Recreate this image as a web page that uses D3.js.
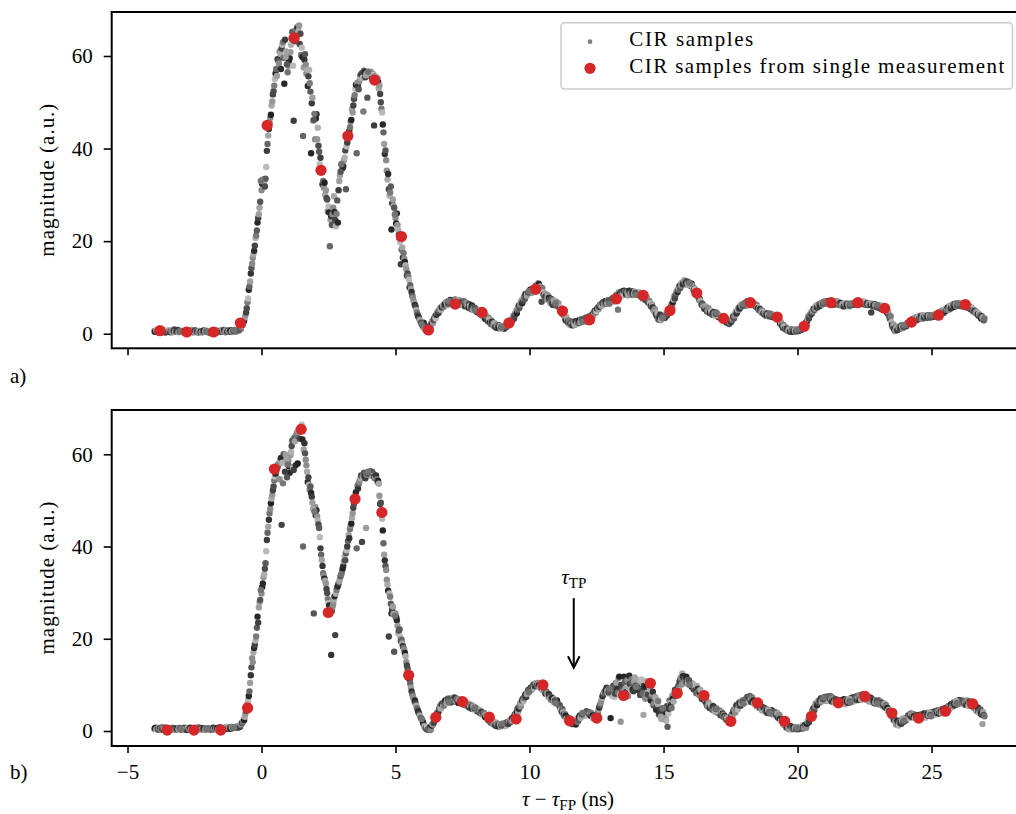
<!DOCTYPE html>
<html>
<head>
<meta charset="utf-8">
<script src="https://cdn.jsdelivr.net/npm/d3@7"></script>
<style>
  body { margin: 0; background: #ffffff; }
</style>
</head>
<body>
<svg id="chart" width="1016" height="814"></svg>
<script>
// ---------------------------------------------------------------------------
// Data: CIR magnitude samples aligned to the first path (tau - tau_FP, ns).
// Each row holds one channel tap; each column is one measurement whose
// sampling grid is shifted by its offset relative to the tap start.
// Two groups of measurements are stored (offset grids interleave).
// ---------------------------------------------------------------------------
const tapStartNs = [-4, -3, -2, -1, 0, 1, 2, 3, 4, 5, 6, 7, 8, 9, 10, 11, 12, 13, 14, 15,
                    16, 17, 18, 19, 20, 21, 22, 23, 24, 25, 26];
const offsetsGroup1 = [0, 0.05, 0.1, 0.15, 0.2, 0.25, 0.3, 0.35, 0.4, 0.45,
                       0.5, 0.55, 0.6, 0.65, 0.7, 0.75, 0.8, 0.85, 0.9, 0.95];
const offsetsGroup2 = [0.025, 0.075, 0.125, 0.175, 0.225, 0.275, 0.325, 0.375, 0.425, 0.475,
                       0.525, 0.575, 0.625, 0.675, 0.725, 0.775, 0.825, 0.875, 0.925, 0.975];

// a) all measurements, group 1
const cirSamplesA1 = [
  [0.6,0.4,0.7,0.3,0.5,0.8,0.4,0.6,0.2,0.5,0.7,0.4,0.3,0.6,0.5,0.9,0.4,0.6,0.3,0.5],
  [0.4,0.6,0.3,0.5,0.7,0.2,0.5,0.4,0.8,0.3,0.5,0.6,0.4,0.2,0.6,0.5,0.3,0.7,0.4,0.5],
  [0.5,0.3,0.6,0.4,0.2,0.5,0.7,0.4,0.3,0.6,0.5,0.4,0.8,0.3,0.5,0.6,0.4,0.7,0.5,0.6],
  [0.6,0.5,0.8,0.7,1.2,1.6,2.0,2.8,3.9,5.5,7.6,10.2,13.0,15.1,17.2,19.0,21.2,24.0,25.8,28.5],
  [31.0,33.2,32.8,33.5,39.5,42.8,45.5,47.3,50.2,52.4,55.0,57.2,59.3,58.4,60.5,61.6,63.0,54.0,59.8,58.2],
  [57.9,59.5,62.4,65.2,46.0,64.5,65.6,66.0,66.6,64.8,61.8,42.7,59.2,58.1,57.0,55.6,54.1,39.0,51.0,46.2],
  [42.0,47.4,44.5,39.3,38.0,35.4,33.0,32.6,31.0,29.0,27.5,18.9,25.4,25.8,29.7,24.6,25.9,24.0,33.0,35.0],
  [36.6,36.2,38.0,31.2,41.3,42.6,44.6,46.2,47.8,50.7,52.9,39.0,53.5,54.5,55.2,56.3,48.0,56.5,55.8,51.0],
  [56.0,56.2,55.9,56.1,45.0,55.5,55.0,54.4,53.6,50.0,47.8,43.5,38.8,37.5,33.3,31.2,30.5,22.5,29.0,27.2],
  [25.0,26.0,22.4,20.5,15.0,18.6,17.4,15.5,14.0,13.0,11.6,10.5,9.0,7.8,6.5,5.9,4.6,3.7,3.0,2.4],
  [1.9,2.4,1.0,1.5,0.6,1.4,1.2,2.4,2.3,3.4,3.3,4.4,4.5,5.3,5.2,5.9,5.8,6.3,6.9,6.5],
  [6.7,7.3,6.2,7.0,6.4,7.2,6.9,6.3,7.1,6.8,6.5,7.0,6.0,6.7,5.8,6.4,5.6,6.1,5.2,5.6],
  [5.3,4.7,5.1,4.3,4.6,3.7,4.1,3.2,3.6,2.7,3.1,2.1,2.6,1.7,2.2,1.3,1.9,1.2,1.7,1.4],
  [1.5,1.1,1.9,1.6,2.3,2.1,3.0,2.9,3.9,4.0,5.0,5.2,6.1,6.3,7.2,7.1,8.0,8.6,8.2,8.9],
  [9.0,9.4,9.2,9.9,9.6,10.1,10.3,10.7,10.2,6.9,8.9,8.2,8.0,7.4,8.1,7.3,7.0,6.5,7.2,6.2],
  [6.9,6.0,5.8,5.0,4.9,4.1,3.9,2.9,3.0,2.3,1.9,2.5,1.8,2.4,2.0,2.6,2.3,2.9,2.5,3.1],
  [2.7,3.3,3.0,2.6,3.1,3.5,3.4,4.2,4.4,5.0,4.9,5.7,5.8,6.4,6.1,6.8,6.5,7.1,6.6,7.2],
  [6.8,7.4,6.9,7.6,7.2,8.0,5.2,8.5,8.4,9.0,8.3,9.1,8.6,8.9,8.5,8.8,8.4,9.0,8.6,8.8],
  [8.8,8.4,8.9,8.1,8.6,7.8,8.0,7.4,7.5,6.7,6.6,5.8,5.7,4.8,4.6,3.8,3.2,3.6,2.9,3.7],
  [3.9,3.5,4.4,4.4,5.2,5.0,6.4,6.8,8.1,8.4,9.4,9.5,10.4,10.4,11.1,11.1,11.3,11.0,10.8,11.1],
  [10.7,10.8,9.9,9.8,9.0,9.0,7.8,7.5,6.6,6.5,5.7,5.7,5.1,5.2,4.6,4.8,4.2,4.5,4.3,4.3],
  [4.2,3.6,3.8,3.3,3.6,3.1,3.1,2.4,2.6,2.1,2.9,2.9,3.8,3.9,4.8,4.8,5.6,5.6,6.3,6.0],
  [6.4,6.3,6.8,6.6,6.9,6.7,6.8,6.3,6.4,5.8,5.8,5.1,5.3,4.6,4.7,4.2,4.3,4.0,4.1,3.8],
  [4.3,3.6,4.1,3.5,3.8,3.3,3.2,2.2,2.1,1.3,1.5,0.9,1.1,0.6,0.9,0.4,1.0,0.4,0.8,0.5],
  [0.8,0.7,1.0,0.9,1.6,1.4,2.4,2.7,3.8,3.8,4.7,4.6,5.4,5.4,6.1,5.7,6.4,6.1,6.7,6.5],
  [6.7,6.6,6.8,6.7,6.9,6.5,7.1,6.3,6.8,6.6,6.8,6.2,6.7,6.1,6.3,6.1,6.4,6.2,6.3,6.1],
  [6.5,6.3,6.6,6.4,6.9,6.6,6.7,6.7,6.8,6.5,6.8,6.3,6.6,6.4,6.5,4.6,6.3,6.1,6.2,5.7],
  [6.2,5.6,6.1,5.4,5.7,5.4,5.3,4.4,4.3,3.2,2.5,1.4,1.1,0.6,1.2,1.0,1.5,1.3,1.6,1.4],
  [1.7,1.6,2.3,2.1,2.7,2.5,3.2,3.0,3.5,2.9,3.6,3.3,3.8,3.2,3.9,3.6,3.8,3.7,3.9,3.5],
  [3.9,3.7,4.0,3.8,4.2,4.0,4.5,4.4,5.0,4.5,5.3,5.1,5.7,5.2,6.0,5.7,6.3,5.8,6.4,6.1],
  [6.4,6.2,6.5,5.9,6.5,6.0,6.2,5.7,6.0,5.3,5.5,4.8,4.9,4.4,4.6,3.9,4.0,3.3,3.5,2.9]
];
// a) all measurements, group 2
const cirSamplesA2 = [
  [0.4,0.7,0.5,0.3,0.6,0.4,0.8,0.5,0.3,0.6,0.4,0.7,0.5,0.3,0.6,0.4,0.5,0.8,0.4,0.6],
  [0.5,0.3,0.6,0.4,0.8,0.5,0.3,0.6,0.4,0.5,0.7,0.3,0.5,0.6,0.4,0.3,0.6,0.5,0.7,0.4],
  [0.3,0.6,0.4,0.7,0.5,0.4,0.6,0.3,0.5,0.7,0.4,0.6,0.5,0.8,0.4,0.5,0.7,0.4,0.6,0.8],
  [0.7,0.6,0.9,1.3,1.1,1.9,2.5,3.5,4.6,6.8,9.5,11.3,14.2,16.4,17.9,20.7,22.3,25.0,27.2,33.0],
  [32.4,33.4,31.8,36.0,41.0,44.2,46.6,49.3,51.7,53.6,56.2,55.7,59.0,61.0,57.2,62.4,59.6,63.5,61.0,56.5],
  [59.0,60.8,63.8,57.9,65.3,63.2,66.2,65.4,62.6,60.2,59.8,57.5,60.4,56.2,53.5,57.0,52.3,49.8,46.0,47.5],
  [46.5,42.0,40.6,36.6,35.5,32.3,31.6,30.0,29.3,26.4,26.2,24.6,23.5,27.2,26.3,23.2,28.8,31.0,34.2,36.6],
  [35.8,37.5,39.6,40.5,43.2,43.8,45.8,48.5,49.3,51.5,53.8,54.2,52.8,55.8,56.0,55.3,56.8,55.4,56.2,56.6],
  [55.8,56.6,55.3,56.0,55.6,54.5,55.2,53.0,51.8,48.6,45.2,41.0,39.6,35.2,34.5,29.8,31.8,28.2,27.6,25.8],
  [23.8,23.5,21.4,19.8,18.2,16.4,16.2,14.8,12.5,12.3,10.0,9.6,8.2,7.0,6.2,5.1,4.1,3.4,2.7,2.0],
  [1.6,1.2,0.8,1.1,1.2,1.7,2.0,2.8,3.0,3.8,4.1,4.8,4.9,5.6,5.7,6.1,6.4,6.7,6.2,7.0],
  [7.0,6.4,7.2,6.6,7.4,6.7,6.5,7.3,6.4,6.3,6.9,5.9,6.4,6.2,5.6,6.0,5.3,5.8,5.5,5.0],
  [4.8,5.2,4.4,4.9,4.0,4.3,3.5,3.9,2.9,3.4,2.5,2.9,2.0,2.3,1.5,1.9,1.4,1.8,1.1,1.5],
  [1.3,1.7,1.4,2.2,1.9,2.7,2.5,3.5,3.3,4.6,4.4,5.7,5.6,6.8,6.6,7.7,7.5,8.3,8.8,9.2],
  [9.5,8.8,9.8,9.3,10.4,9.8,10.9,10.0,9.6,9.9,8.4,8.7,7.6,8.4,7.8,6.6,7.5,6.2,6.8,6.6],
  [6.4,6.6,5.4,5.5,4.3,4.6,3.4,3.6,2.6,2.8,2.2,2.0,2.6,1.9,2.7,2.1,2.8,2.4,3.2,2.6],
  [3.1,2.8,3.5,3.2,3.8,3.2,3.9,3.8,4.9,4.6,5.4,5.3,6.2,6.0,6.6,6.4,7.0,6.6,7.3,6.5],
  [7.1,7.0,7.8,7.2,8.3,7.7,8.9,8.0,9.1,8.6,9.3,8.4,9.2,8.3,9.3,8.6,9.2,8.5,9.1,8.4],
  [8.6,8.9,8.2,8.7,7.6,8.3,7.2,7.9,6.8,7.0,6.0,6.3,5.1,5.3,4.2,4.4,3.0,4.1,3.3,3.4],
  [3.4,4.0,3.9,4.8,4.7,5.8,5.8,7.4,7.6,8.9,9.0,10.0,9.9,10.9,10.7,11.6,10.7,11.3,10.5,10.9],
  [10.3,10.4,9.4,9.6,8.6,8.4,7.3,7.2,6.2,6.1,5.4,5.9,4.8,5.5,4.5,4.9,4.1,4.7,3.9,4.6],
  [3.9,4.0,3.4,3.7,3.2,3.4,2.7,2.8,2.3,2.5,2.6,3.3,3.3,4.3,4.4,5.2,5.3,6.0,5.9,6.4],
  [6.6,6.0,7.0,6.4,7.1,6.4,6.5,6.6,6.0,6.2,5.5,5.5,4.9,5.0,4.4,4.6,3.9,4.4,3.7,4.3],
  [3.9,4.0,3.6,3.9,3.3,3.7,2.7,2.6,1.7,1.9,1.1,1.4,0.7,1.0,0.5,0.9,0.6,0.7,0.4,0.9],
  [0.6,1.0,0.8,1.3,1.2,1.9,2.0,3.2,3.3,4.2,4.3,5.0,5.1,5.8,5.7,6.3,6.0,6.6,6.3,6.9],
  [6.9,6.4,7.1,6.5,6.6,7.0,6.4,6.9,6.4,7.0,6.3,6.6,6.2,6.5,5.9,6.6,6.0,6.5,5.9,6.5],
  [6.2,6.7,6.3,6.8,6.5,7.1,6.4,6.9,6.4,6.9,6.3,6.7,6.2,6.6,6.2,6.5,5.9,6.4,5.8,6.2],
  [5.7,6.1,5.3,5.8,5.2,5.6,4.8,4.9,3.7,3.8,1.9,2.0,0.7,1.5,0.8,1.4,1.1,1.8,1.2,1.9],
  [1.9,2.0,2.4,2.6,2.8,3.1,2.8,3.4,3.1,3.7,3.2,3.9,3.4,4.0,3.5,3.9,3.4,4.0,3.6,4.0],
  [3.6,4.1,3.9,4.3,3.9,4.6,4.2,4.9,4.6,5.2,4.9,5.5,5.4,6.0,5.5,6.2,5.9,6.5,6.0,6.6],
  [6.1,6.6,6.0,6.4,5.9,6.3,5.6,6.1,5.6,5.7,5.1,5.2,4.6,4.8,4.2,4.3,3.6,3.8,3.1,3.3]
];
const singleTimesA = [-3.79,-2.79,-1.79,-0.79,0.21,1.22,2.22,3.22,4.22,5.22,6.23,7.23,8.23,9.23,
                      10.23,11.23,12.24,13.24,14.24,15.24,16.24,17.24,18.24,19.24,20.25,21.25,
                      22.25,23.25,24.25,25.26,26.26];
const singleMagA = [0.65,0.37,0.37,2.3,45.0,63.9,35.3,42.7,54.8,21.0,0.8,6.4,4.6,2.3,9.6,4.9,
                    3.0,7.5,8.3,5.0,8.8,3.3,6.7,3.6,1.6,6.7,6.7,5.5,2.5,4.0,6.3];

// b) all measurements, group 1
const cirSamplesB1 = [
  [0.5,0.7,0.4,0.3,0.6,0.5,0.8,0.3,0.5,0.6,0.4,0.2,0.5,0.7,0.4,0.6,0.3,0.5,0.4,0.6],
  [0.4,0.6,0.3,0.5,0.2,0.6,0.4,0.7,0.5,0.3,0.6,0.4,0.5,0.8,0.3,0.5,0.4,0.6,0.2,0.5],
  [0.5,0.4,0.6,0.3,0.7,0.5,0.4,0.6,0.3,0.8,0.5,0.4,0.6,0.5,0.9,0.6,0.7,0.5,0.8,0.7],
  [0.7,0.9,0.8,1.1,0.9,1.6,1.9,2.4,3.8,5.0,6.6,8.6,12.1,15.8,17.0,18.7,20.5,24.8,26.8,28.4],
  [29.8,32.0,34.0,36.4,41.4,44.3,47.2,49.4,51.2,53.0,55.2,56.4,57.3,58.0,58.8,44.7,53.7,59.5,59.9,55.0],
  [58.6,56.0,60.5,63.0,56.6,62.8,64.2,58.0,65.0,65.6,66.4,40.0,62.4,58.8,56.2,55.0,52.3,51.6,49.5,25.5],
  [48.6,47.9,45.6,44.0,39.6,37.1,34.2,33.0,32.0,29.9,27.7,26.3,16.5,27.0,28.5,20.8,30.6,31.5,32.4,33.6],
  [34.5,35.8,37.8,38.6,40.0,42.5,43.8,45.0,47.2,49.3,51.5,39.6,52.6,54.0,54.8,41.0,55.5,55.2,44.0,55.8],
  [55.9,56.3,55.6,55.9,55.2,55.0,54.6,54.2,51.0,49.5,46.0,40.7,37.0,34.9,31.7,20.5,29.1,25.5,27.0,17.2],
  [25.5,24.0,21.2,22.0,19.5,19.0,18.0,16.9,15.0,13.5,12.1,10.3,8.6,7.5,6.4,6.0,5.0,4.2,3.4,2.8],
  [2.4,1.4,0.8,0.5,0.3,0.9,0.2,1.2,1.4,2.5,2.6,3.9,4.1,5.4,4.9,6.0,5.5,6.6,6.0,7.0],
  [6.7,6.2,7.1,6.4,7.3,6.6,7.0,6.1,6.9,6.0,6.6,5.7,6.3,5.4,6.0,5.1,5.7,4.8,5.4,4.9],
  [4.9,4.3,4.7,3.9,4.2,3.5,3.9,3.0,3.4,2.4,2.8,1.8,2.2,1.4,1.9,1.1,1.6,1.0,1.5,1.2],
  [1.3,1.6,1.1,1.9,1.5,2.3,2.1,2.8,2.6,3.6,3.6,4.9,4.8,6.0,6.1,7.0,7.1,8.0,8.0,8.9],
  [8.7,9.4,9.3,10.1,9.7,10.4,9.8,9.9,9.7,9.2,8.8,8.8,8.1,8.2,7.4,7.6,6.8,7.1,6.3,6.6],
  [6.4,6.0,5.4,5.1,4.2,4.1,3.2,3.3,2.3,2.6,1.8,2.2,1.5,2.0,1.6,2.3,2.0,3.0,2.8,3.6],
  [3.3,3.8,3.5,4.1,3.8,3.6,3.9,3.4,3.0,2.9,3.2,4.0,5.1,6.0,7.2,7.9,8.6,8.9,8.7,8.4],
  [8.2,8.9,7.6,9.4,8.1,10.5,8.3,11.8,2.0,9.0,7.7,10.6,8.4,11.0,9.4,10.2,11.2,9.0,10.6,9.8],
  [10.0,8.9,11.0,9.2,8.6,3.5,7.4,9.6,8.2,10.3,9.0,7.6,8.5,6.0,7.2,5.4,6.5,4.0,3.1,4.8],
  [3.0,4.6,2.2,0.9,4.8,6.1,5.0,7.0,8.2,7.6,8.8,9.8,10.8,11.6,12.5,11.3,10.7,11.8,10.2,11.0],
  [10.4,9.6,10.1,9.4,8.9,9.7,8.6,8.4,7.6,7.9,7.2,6.5,5.9,5.3,5.8,5.3,4.9,5.4,4.6,4.8],
  [4.4,4.0,3.8,4.2,3.8,3.5,3.0,2.6,2.2,2.5,2.9,3.6,4.2,4.6,5.3,5.0,5.6,5.9,6.0,6.4],
  [6.0,6.6,6.8,7.1,7.0,6.7,7.3,6.6,6.2,6.1,5.8,5.5,5.1,4.9,4.6,5.0,4.4,4.3,4.6,4.1],
  [4.3,4.0,3.8,4.1,3.5,3.8,3.2,2.6,2.2,1.8,1.4,1.1,0.8,0.9,0.6,0.7,0.5,0.8,0.6,0.4],
  [0.6,0.5,0.8,0.6,0.9,0.8,1.0,1.6,2.4,3.2,3.6,4.4,5.0,5.4,5.8,6.2,6.5,6.7,6.4,6.9],
  [6.8,7.1,6.9,7.2,7.0,6.8,7.3,6.6,6.7,6.4,6.2,6.5,6.0,6.3,6.4,6.1,6.6,6.3,6.5,6.4],
  [6.6,6.9,6.5,7.0,6.8,7.0,7.2,6.9,7.3,7.6,7.5,7.1,7.0,6.8,6.6,6.9,6.4,6.6,6.2,6.5],
  [6.3,6.0,6.4,5.8,5.6,5.9,5.6,5.0,4.6,4.0,3.9,3.1,2.5,2.0,1.8,1.5,1.9,1.7,2.2,2.0],
  [2.1,2.4,2.8,3.2,3.3,3.6,3.5,3.2,3.0,2.8,3.0,3.1,2.9,3.3,3.4,3.2,3.5,3.6,3.4,3.5],
  [3.6,3.8,3.5,3.9,3.9,4.1,4.0,4.2,4.3,4.5,4.3,4.7,4.9,5.3,5.1,5.6,5.5,5.9,6.1,6.0],
  [6.2,6.4,6.1,6.3,6.2,6.0,6.3,5.8,6.2,5.9,5.9,5.5,5.2,4.8,4.6,4.2,4.4,3.8,1.5,3.5]
];
// b) all measurements, group 2
const cirSamplesB2 = [
  [0.6,0.4,0.5,0.7,0.3,0.6,0.4,0.5,0.7,0.4,0.6,0.3,0.6,0.4,0.5,0.3,0.6,0.4,0.7,0.5],
  [0.3,0.5,0.7,0.4,0.6,0.3,0.5,0.4,0.6,0.5,0.3,0.7,0.4,0.5,0.6,0.4,0.5,0.3,0.6,0.4],
  [0.6,0.3,0.5,0.7,0.4,0.6,0.5,0.3,0.7,0.5,0.6,0.4,0.7,0.6,0.5,0.8,0.6,0.9,0.6,0.8],
  [0.8,1.0,0.7,1.2,1.3,1.8,2.2,3.1,4.4,5.8,7.6,10.4,13.8,14.9,18.0,19.6,22.4,23.5,27.9,30.6],
  [31.2,33.4,35.2,39.0,43.0,45.8,48.2,50.4,52.2,54.3,55.8,57.0,57.8,54.6,59.2,58.2,60.0,56.2,58.8,57.8],
  [57.4,59.8,61.8,57.2,63.6,57.6,64.8,65.2,63.4,66.0,63.2,61.0,60.2,57.6,54.0,53.4,53.0,50.8,48.2,47.6],
  [46.8,46.5,44.8,42.0,38.2,35.8,33.6,32.6,30.8,28.6,27.2,25.8,26.0,27.6,29.2,29.8,31.2,32.0,33.0,34.0],
  [35.2,36.8,37.0,39.2,41.2,41.8,44.5,46.2,48.4,50.4,51.8,53.2,53.6,54.6,55.4,55.2,56.0,54.8,55.6,56.2],
  [56.0,55.4,56.2,55.3,54.8,55.4,54.0,53.6,49.2,47.8,43.5,38.2,35.8,32.8,30.4,29.8,27.6,26.4,25.4,25.0],
  [24.6,22.8,21.8,20.4,19.8,18.4,17.6,16.2,14.2,12.8,11.2,9.4,8.0,7.0,6.6,5.5,4.6,3.8,3.1,2.6],
  [1.9,1.1,0.6,0.9,0.4,0.7,0.5,1.5,1.8,2.8,3.3,4.1,4.8,5.0,5.8,5.4,6.3,6.1,6.7,6.3],
  [7.0,6.5,6.8,7.2,6.4,6.9,6.2,6.7,6.5,6.2,5.9,6.4,5.7,6.0,5.4,5.6,5.2,5.3,4.7,5.1],
  [4.6,4.5,4.1,4.4,3.7,3.8,3.3,3.5,2.8,3.0,2.1,2.5,1.7,2.0,1.3,1.7,1.2,1.4,1.0,1.6],
  [1.5,1.2,1.7,1.4,2.0,1.9,2.5,2.3,3.2,3.0,4.2,4.1,5.4,5.3,6.6,6.5,7.6,7.4,8.5,8.4],
  [9.2,8.9,9.8,9.5,10.3,9.9,10.4,9.5,10.0,9.0,9.3,8.3,8.6,7.8,8.0,7.1,7.3,6.6,6.9,6.0],
  [6.6,5.7,5.6,4.6,4.8,3.6,3.7,2.7,2.9,2.0,2.4,1.6,2.1,1.9,1.4,2.7,2.4,3.4,3.1,3.9],
  [3.6,3.4,4.3,3.5,4.1,3.3,3.6,2.7,3.4,2.6,3.6,4.6,5.6,6.5,7.6,8.4,8.3,9.4,8.2,9.2],
  [2.8,8.6,9.8,7.4,10.4,9.1,11.5,7.9,10.0,8.6,11.8,9.2,10.8,7.6,12.0,9.0,10.4,8.6,11.6,9.6],
  [9.4,10.6,7.8,11.2,8.2,9.8,7.0,10.8,7.9,9.4,6.6,8.1,5.6,7.4,4.6,5.9,3.6,4.2,2.6,5.0],
  [4.0,2.8,5.4,3.8,6.6,5.6,7.6,6.4,8.9,7.8,9.4,9.0,11.2,10.1,11.9,10.6,11.5,10.4,11.0,10.0],
  [9.9,10.3,9.0,9.8,8.2,9.1,7.8,8.9,7.0,7.4,6.6,6.9,5.5,6.2,5.0,5.6,4.6,5.2,4.2,4.9],
  [4.0,4.5,3.4,4.0,3.1,3.3,2.5,2.8,1.9,2.6,3.2,3.3,4.6,4.0,5.6,4.7,6.2,5.5,6.6,5.9],
  [6.8,6.3,7.4,6.5,7.6,6.3,6.9,5.9,6.4,5.4,5.9,5.0,5.4,4.5,5.1,4.2,4.8,3.9,4.5,3.8],
  [4.5,3.6,4.2,3.3,3.9,2.9,3.5,2.2,2.6,1.4,1.9,0.7,1.3,0.4,1.1,0.3,0.9,0.5,0.8,0.7],
  [0.4,0.9,0.5,1.2,0.6,1.3,0.7,2.1,1.9,3.5,3.0,4.8,4.5,5.9,5.6,6.6,6.2,7.1,6.7,7.3],
  [7.4,6.5,7.5,6.6,7.6,6.4,7.0,6.2,6.9,5.9,6.6,5.8,6.7,6.0,6.9,5.8,6.8,6.1,7.0,6.2],
  [7.2,6.4,7.4,6.6,7.6,6.7,7.8,6.8,7.9,7.0,7.8,6.7,7.4,6.4,7.2,6.2,6.8,6.0,6.7,5.9],
  [6.6,5.7,6.2,5.3,5.9,5.1,5.2,4.3,4.3,3.4,3.2,2.4,2.6,1.4,2.2,1.2,2.3,1.6,2.7,2.3],
  [2.7,2.6,3.4,2.9,3.8,3.0,3.7,2.8,3.4,2.5,3.5,2.7,3.6,3.0,3.8,2.9,3.9,3.3,4.0,3.2],
  [4.1,3.4,4.3,3.6,4.5,3.8,4.6,4.0,4.8,4.1,5.0,4.4,5.4,4.8,5.8,5.2,6.2,5.6,6.5,5.8],
  [6.7,5.9,6.6,5.8,6.5,5.7,6.6,5.5,6.4,5.4,6.1,5.0,5.6,4.4,5.1,3.9,4.7,3.5,4.1,3.2]
];
const singleTimesB = [-3.52,-2.52,-1.52,-0.52,0.48,1.48,2.49,3.49,4.49,5.49,6.50,7.50,8.50,9.50,
                      10.50,11.50,12.51,13.51,14.51,15.51,16.51,17.51,18.51,19.52,20.52,21.52,
                      22.52,23.52,24.52,25.52,26.53];
const singleMagB = [0.2,0.2,0.2,5.0,56.8,65.4,25.7,50.3,47.4,12.1,2.95,6.35,3.0,2.6,10.0,2.2,
                    2.8,7.7,10.35,8.2,7.7,2.1,6.1,2.1,3.2,6.1,7.5,3.9,2.8,4.3,5.9];

const xTicks = [-5, 0, 5, 10, 15, 20, 25];
const yTicks = [0, 20, 40, 60];
const legendLabels = ["CIR samples", "CIR samples from single measurement"];
const panelTags = ["a)", "b)"];
const tauTP = 11.65;          // ns, marked in panel b
const tauTPArrowTip = 13.7;   // magnitude where the arrow ends
const tauTPArrowTail = 28.8;  // magnitude where the arrow starts
const tauTPTextAt = 31.9;     // magnitude of the label baseline

// ---------------------------------------------------------------------------
// Styling
// ---------------------------------------------------------------------------
const FONT = 21;
const SERIF = "'Liberation Serif'";
const RED = "#d62728";
const measurementShades = ["#8c8c8c","#2b2b2b","#b0b0b0","#5a5a5a","#3d3d3d","#a3a3a3","#737373",
  "#222222","#969696","#4c4c4c","#bababa","#666666","#333333","#8a8a8a","#a8a8a8","#444444",
  "#7a7a7a","#282828","#9e9e9e","#555555"];

const svg = d3.select("#chart");
const x = d3.scaleLinear().domain([-5.59, 28.55]).range([111.7, 1026.7]);
const fmt = d => d < 0 ? "\u2212" + Math.abs(d) : String(d);

const panels = [
  { top: 12, bottom: 348.3, yDomain: [-3.15, 69.5], groups: [cirSamplesA1, cirSamplesA2],
    redT: singleTimesA, redV: singleMagA, tagY: 382.7, showX: false, legend: true },
  { top: 410, bottom: 746, yDomain: [-3.25, 69.6], groups: [cirSamplesB1, cirSamplesB2],
    redT: singleTimesB, redV: singleMagB, tagY: 779, showX: true, legend: false }
];
const groupOffsets = [offsetsGroup1, offsetsGroup2];

// every label is set in the serif face
function txt(sel) {
  return sel.style("font-family", SERIF).attr("fill", "#000");
}

panels.forEach((p, pi) => {
  const y = d3.scaleLinear().domain(p.yDomain).range([p.bottom, p.top]);
  const g = svg.append("g");

  // grey samples, measurement by measurement
  const pts = [];
  offsetsGroup1.forEach((_, m) => {
    p.groups.forEach((rows, gi) => {
      const off = groupOffsets[gi][m];
      const shade = measurementShades[(m + gi * 7) % measurementShades.length];
      rows.forEach((row, r) => pts.push({ t: tapStartNs[r] + off, v: row[m], shade }));
    });
  });
  g.append("g").selectAll("circle").data(pts).join("circle")
    .attr("cx", d => x(d.t)).attr("cy", d => y(d.v)).attr("r", 3.2)
    .attr("fill", d => d.shade);

  // single measurement
  g.append("g").selectAll("circle").data(p.redT.map((t, i) => ({ t, v: p.redV[i] }))).join("circle")
    .attr("cx", d => x(d.t)).attr("cy", d => y(d.v)).attr("r", 5.6)
    .attr("fill", RED);

  // frame
  g.append("rect")
    .attr("x", x.range()[0]).attr("y", p.top)
    .attr("width", x.range()[1] - x.range()[0]).attr("height", p.bottom - p.top)
    .attr("fill", "none").attr("stroke", "#000").attr("stroke-width", 2);

  // axes
  const xa = g.append("g").attr("transform", `translate(0,${p.bottom})`)
    .call(d3.axisBottom(x).tickValues(xTicks).tickSize(7).tickPadding(11.5)
      .tickFormat(p.showX ? fmt : () => ""));
  const ya = g.append("g").attr("transform", `translate(${x.range()[0]},0)`)
    .call(d3.axisLeft(y).tickValues(yTicks).tickSize(8).tickPadding(11).tickFormat(fmt));
  [xa, ya].forEach(a => {
    a.select(".domain").remove();
    a.attr("font-family", null).attr("font-size", FONT);
    a.selectAll(".tick line").attr("stroke", "#000").attr("stroke-width", 1.6);
    txt(a.selectAll(".tick text"));
  });

  // y label
  txt(g.append("text"))
    .attr("transform", `translate(46.7,${(p.top + p.bottom) / 2}) rotate(-90)`)
    .attr("text-anchor", "middle").attr("dominant-baseline", "central")
    .attr("font-size", FONT).attr("textLength", 153).attr("lengthAdjust", "spacing")
    .text("magnitude (a.u.)");

  // panel tag
  txt(g.append("text")).attr("x", 10).attr("y", p.tagY).attr("font-size", FONT).text(panelTags[pi]);

  if (p.legend) {
    const lg = g.append("g");
    lg.append("rect").attr("x", 561).attr("y", 22.7).attr("width", 451.5).attr("height", 66.3)
      .attr("rx", 3.5).attr("fill", "#fff").attr("fill-opacity", 0.85)
      .attr("stroke", "#cccccc").attr("stroke-width", 1.5);
    lg.append("circle").attr("cx", 590).attr("cy", 41.7).attr("r", 2.4).attr("fill", "#808080");
    lg.append("circle").attr("cx", 590).attr("cy", 68.3).attr("r", 5.6).attr("fill", RED);
    txt(lg.append("text")).attr("x", 629.3).attr("y", 46).attr("font-size", FONT)
      .attr("textLength", 124).attr("lengthAdjust", "spacing").text(legendLabels[0]);
    txt(lg.append("text")).attr("x", 629.3).attr("y", 73.3).attr("font-size", FONT)
      .attr("textLength", 375).attr("lengthAdjust", "spacing").text(legendLabels[1]);
  }

  if (p.showX) {
    // x label: tau - tau_FP (ns)
    const xl = txt(g.append("text")).attr("x", 568).attr("y", 806).attr("text-anchor", "middle")
      .attr("font-size", FONT);
    xl.append("tspan").attr("font-style", "italic").text("\u03c4");
    xl.append("tspan").text(" \u2212 ");
    xl.append("tspan").attr("font-style", "italic").text("\u03c4");
    xl.append("tspan").attr("font-size", FONT * 0.72).attr("dy", 4).text("FP");
    xl.append("tspan").attr("dy", -4).text(" (ns)");

    // tau_TP annotation
    const ax = x(tauTP);
    const tl = txt(g.append("text")).attr("x", ax).attr("y", y(tauTPTextAt))
      .attr("text-anchor", "middle").attr("font-size", FONT);
    tl.append("tspan").attr("font-style", "italic").text("\u03c4");
    tl.append("tspan").attr("font-size", FONT * 0.72).attr("dy", 4).text("TP");
    const tipY = y(tauTPArrowTip);
    g.append("line").attr("x1", ax).attr("x2", ax).attr("y1", y(tauTPArrowTail)).attr("y2", tipY - 1)
      .attr("stroke", "#000").attr("stroke-width", 2);
    g.append("path")
      .attr("d", `M${ax - 5.8},${tipY - 11.5} L${ax},${tipY} L${ax + 5.8},${tipY - 11.5}`)
      .attr("fill", "none").attr("stroke", "#000").attr("stroke-width", 2)
      .attr("stroke-linejoin", "miter");
  }
});
</script>
</body>
</html>
